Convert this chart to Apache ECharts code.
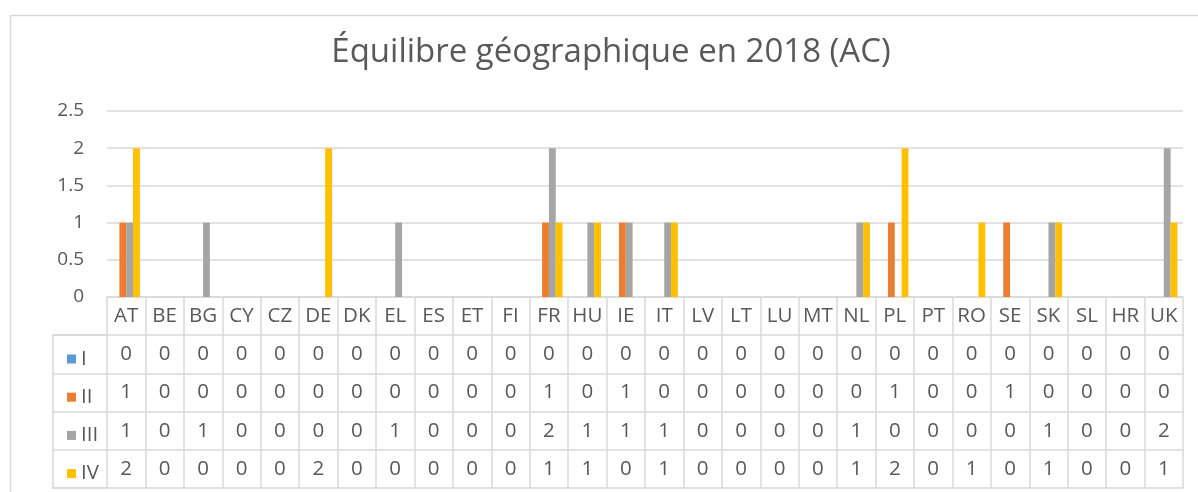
<!DOCTYPE html>
<html>
<head>
<meta charset="utf-8">
<script src="https://cdn.jsdelivr.net/npm/echarts@6/dist/echarts.min.js"></script>
<style>
  html, body { margin: 0; padding: 0; background: #fff; }
  #chart { width: 1198px; height: 492px; }
</style>
</head>
<body>
<div id="chart"></div>
<script>
// pays (colonnes du tableau)
const countries = ['AT','BE','BG','CY','CZ','DE','DK','EL','ES','ET','FI','FR','HU','IE','IT','LV','LT','LU','MT','NL','PL','PT','RO','SE','SK','SL','HR','UK']
const seriesNames = ['I', 'II', 'III', 'IV']
const valuesI   = [0,0,0,0,0,0,0,0,0,0,0,0,0,0,0,0,0,0,0,0,0,0,0,0,0,0,0,0]
const valuesII  = [1,0,0,0,0,0,0,0,0,0,0,1,0,1,0,0,0,0,0,0,1,0,0,1,0,0,0,0]
const valuesIII = [1,0,1,0,0,0,0,1,0,0,0,2,1,1,1,0,0,0,0,1,0,0,0,0,1,0,0,2]
const valuesIV  = [2,0,0,0,0,2,0,0,0,0,0,1,1,0,1,0,0,0,0,1,2,0,1,0,1,0,0,1]
const yTicks = [0, 0.5, 1, 1.5, 2, 2.5]

const colors = ['#5b9bd5', '#ed7d31', '#a5a5a5', '#ffc000']
const allValues = [valuesI, valuesII, valuesIII, valuesIV]
const txt = '#595959'
const line = '#d9d9d9'
const font = 'Open Sans'
const tableFont = 20.5

const rowH = 38.2
// une ligne du tableau = un axe X décalé
function rowAxis(data, offset, showLabel) {
  return {
    type: 'category',
    gridIndex: 0,
    position: 'bottom',
    offset: offset,
    data: data,
    axisLine: { show: true, lineStyle: { color: line, width: 1.5 } },
    axisTick: { show: false },
    axisLabel: {
      show: showLabel,
      interval: 0,
      margin: rowH / 2,
      verticalAlign: 'middle',
      color: txt,
      fontSize: tableFont,
      fontFamily: font
    }
  }
}

const xAxes = [
  {
    type: 'category',
    gridIndex: 0,
    data: countries,
    axisLine: { show: true, lineStyle: { color: line, width: 1.5 } },
    axisTick: { show: true, interval: 0, length: rowH * 5, lineStyle: { color: line, width: 1.5 } },
    axisLabel: { interval: 0, margin: rowH / 2, verticalAlign: 'middle', color: txt, fontSize: tableFont, fontFamily: font }
  }
]
allValues.forEach((vals, i) => {
  xAxes.push(rowAxis(vals.map(String), rowH * (i + 1), true))
})
xAxes.push(rowAxis(countries.map(() => ''), rowH * 5, false))
// colonne de la légende
xAxes.push({ type: 'category', gridIndex: 1, position: 'bottom', data: [''],
  axisLine: { show: true, lineStyle: { color: line, width: 1.5 } }, axisTick: { show: false }, axisLabel: { show: false } })
xAxes.push({ type: 'category', gridIndex: 1, position: 'top', data: [''],
  axisLine: { show: true, lineStyle: { color: line, width: 1.5 } }, axisTick: { show: false }, axisLabel: { show: false } })

const option = {
  backgroundColor: '#fff',
  color: colors,
  animation: false,
  title: {
    text: 'Équilibre géographique en 2018 (AC)',
    left: 606,
    textAlign: 'center',
    top: 31,
    padding: 5,
    textStyle: { color: txt, fontSize: 33, fontWeight: 'normal', fontFamily: font }
  },
  legend: {
    data: seriesNames,
    orient: 'vertical',
    left: 62,
    top: 343,
    icon: 'rect',
    itemWidth: 9,
    itemHeight: 9,
    itemGap: 16.2,
    selectedMode: false,
    textStyle: { color: txt, fontSize: tableFont, lineHeight: 22, fontFamily: font }
  },
  graphic: [
    { type: 'rect', left: 8, top: 13, shape: { width: 1200, height: 500 }, silent: true,
      style: { fill: 'none', stroke: line, lineWidth: 1.5 } }
  ],
  grid: [
    { left: 107, right: 15, top: 111, bottom: 195 },
    { left: 53, width: 54, top: 297 + rowH, height: rowH * 4 }
  ],
  xAxis: xAxes,
  yAxis: [
    {
      type: 'value',
      gridIndex: 0,
      min: yTicks[0],
      max: yTicks[yTicks.length - 1],
      interval: 0.5,
      axisLine: { show: false },
      axisTick: { show: false },
      splitLine: { lineStyle: { color: line, width: 1.5 } },
      axisLabel: { color: txt, fontSize: 19, margin: 23, fontFamily: font }
    },
    {
      type: 'category',
      gridIndex: 1,
      inverse: true,
      data: seriesNames,
      axisLine: { show: true, lineStyle: { color: line, width: 1.5 } },
      axisTick: { show: false },
      axisLabel: { show: false },
      splitLine: { show: true, lineStyle: { color: line, width: 1.5 } }
    }
  ],
  series: seriesNames.map((name, i) => ({
    name: name,
    type: 'bar',
    xAxisIndex: 0,
    yAxisIndex: 0,
    data: allValues[i],
    barGap: '0%',
    barCategoryGap: '29%'
  }))
}

const chart = echarts.init(document.getElementById('chart'))
chart.setOption(option)
window.onresize = function () {
  chart.resize()
}
</script>
</body>
</html>
